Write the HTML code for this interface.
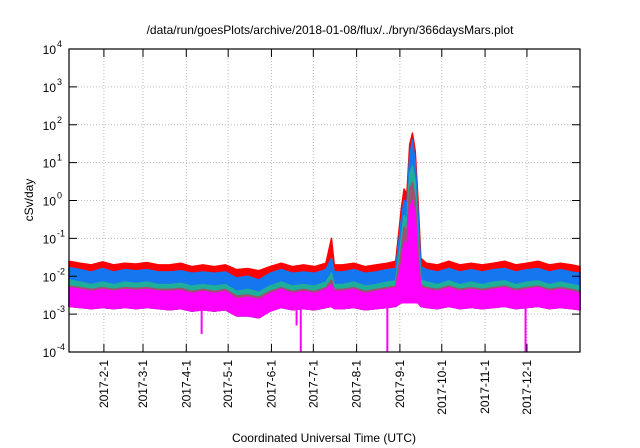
<!DOCTYPE html>
<html><head><meta charset="utf-8"><style>
html,body{margin:0;padding:0;background:#fff;}
svg{display:block;font-family:"Liberation Sans",sans-serif;}
</style></head><body>
<svg id="chart" width="640" height="448" viewBox="0 0 640 448" xmlns="http://www.w3.org/2000/svg">
<text x="330" y="34" font-size="12" text-anchor="middle">/data/run/goesPlots/archive/2018-01-08/flux/../bryn/366daysMars.plot</text>
<text x="0" y="0" font-size="12" text-anchor="middle" transform="translate(33,200) rotate(-90)">cSv/day</text>
<text x="324" y="442" font-size="12" text-anchor="middle">Coordinated Universal Time (UTC)</text>
<g id="grid"></g>
<g id="series"></g>
<g id="axes"></g>
</svg>
<script>
const days=[0,8,16,24,32,40,48,56,64,72,80,88,96,104,112,120,128,136,144,152,160,168,176,184,188,190,196,204,212,220,228,234,238,240,242,244,246,248,250,252,256,264,272,280,288,296,304,312,320,328,336,344,352,360,366];
const redVals=[0.025,0.022,0.02,0.024,0.02,0.022,0.021,0.023,0.02,0.02,0.022,0.018,0.02,0.018,0.02,0.015,0.016,0.014,0.018,0.022,0.018,0.02,0.018,0.022,0.1,0.02,0.02,0.022,0.018,0.02,0.022,0.025,0.6,2,1.5,30,60,20,1,0.03,0.022,0.02,0.025,0.02,0.022,0.02,0.022,0.025,0.02,0.022,0.025,0.02,0.022,0.02,0.018];
const blueVals=[0.017,0.015,0.013,0.016,0.013,0.015,0.014,0.015,0.013,0.013,0.014,0.012,0.013,0.012,0.013,0.009,0.01,0.008,0.012,0.015,0.012,0.013,0.012,0.015,0.03,0.013,0.013,0.015,0.012,0.013,0.015,0.016,0.3,1,0.8,15,40,10,0.5,0.018,0.015,0.013,0.016,0.013,0.015,0.013,0.015,0.016,0.013,0.015,0.016,0.013,0.015,0.013,0.012];
const tealVals=[0.008,0.007,0.006,0.007,0.006,0.007,0.0065,0.007,0.006,0.006,0.0065,0.0055,0.006,0.0055,0.006,0.004,0.0045,0.0038,0.0055,0.007,0.0055,0.006,0.0055,0.007,0.012,0.006,0.006,0.007,0.0055,0.006,0.007,0.0075,0.1,0.4,0.3,5,8,3,0.1,0.008,0.007,0.006,0.0075,0.006,0.007,0.006,0.007,0.0075,0.006,0.007,0.0075,0.006,0.007,0.006,0.0055];
const brownVals=[0.0055,0.005,0.0045,0.005,0.0045,0.005,0.0048,0.005,0.0045,0.0045,0.0048,0.004,0.0045,0.004,0.0045,0.003,0.0032,0.0028,0.004,0.005,0.004,0.0045,0.004,0.005,0.008,0.0045,0.0045,0.005,0.004,0.0045,0.005,0.0055,0.05,0.2,0.15,2,3,1,0.05,0.006,0.005,0.0045,0.0055,0.0045,0.005,0.0045,0.005,0.0055,0.0045,0.005,0.0055,0.0045,0.005,0.0045,0.004];
const magentaHi=[0.005,0.0045,0.004,0.0045,0.004,0.0045,0.0042,0.0045,0.004,0.004,0.0042,0.0035,0.004,0.0035,0.004,0.0025,0.0028,0.0024,0.0035,0.0045,0.0035,0.004,0.0035,0.0045,0.006,0.004,0.004,0.0045,0.0035,0.004,0.0045,0.005,0.02,0.08,0.06,0.6,1,0.4,0.02,0.005,0.0045,0.004,0.005,0.004,0.0045,0.004,0.0045,0.005,0.004,0.0045,0.005,0.004,0.0045,0.004,0.0035];
const magentaLo=[0.0016,0.0015,0.0014,0.0015,0.0014,0.0015,0.0014,0.0015,0.0014,0.0013,0.0014,0.0012,0.0013,0.0012,0.0013,0.0009,0.0009,0.0008,0.0012,0.0015,0.0013,0.0014,0.0013,0.0015,0.0016,0.0014,0.0014,0.0015,0.0013,0.0014,0.0015,0.0016,0.002,0.002,0.002,0.002,0.002,0.002,0.002,0.0016,0.0015,0.0014,0.0016,0.0014,0.0015,0.0014,0.0015,0.0016,0.0014,0.0015,0.0016,0.0014,0.0015,0.0014,0.0013];
const spikeDays=[95,163,166,228,327];
const spikeVals=[0.0003,0.0005,0.0001,0.0001,0.0001];
const xTickDays=[25,53,84,114,145,175,206,237,267,298,328];
const xTickLabels=["2017-2-1","2017-3-1","2017-4-1","2017-5-1","2017-6-1","2017-7-1","2017-8-1","2017-9-1","2017-10-1","2017-11-1","2017-12-1"];
const yExps=[-4,-3,-2,-1,0,1,2,3,4];

const L=69,R=580,T=49,B=352,NS="http://www.w3.org/2000/svg";
const xs=d=>L+(R-L)*d/366;
const ys=v=>B-(Math.log10(v)+4)/8*(B-T);
function mk(tag,attrs,parent){const e=document.createElementNS(NS,tag);for(const k in attrs)e.setAttribute(k,attrs[k]);parent.appendChild(e);return e;}
const grid=document.getElementById('grid'),ser=document.getElementById('series'),axes=document.getElementById('axes');

yExps.forEach(e=>{const y=ys(Math.pow(10,e));
 if(e>-4&&e<4){const g=mk('line',{x1:L,x2:R,y1:y,y2:y,stroke:'#bbb','stroke-dasharray':'1,2'},grid);
 
 }
 const t=mk('line',{x1:L,x2:L+8,y1:y,y2:y,stroke:'#000'},axes);
 
 
 mk('line',{x1:R-8,x2:R,y1:y,y2:y,stroke:'#000'},axes);
 const tx=mk('text',{x:56,y:y+5,'font-size':'12','text-anchor':'end'},axes);
 
 
 tx.textContent='10';
 const sp=mk('text',{x:57,y:y-2,'font-size':'9'},axes);
 sp.textContent=String(e);
});
xTickDays.forEach((d,i)=>{const x=xs(d);
 const g=mk('line',{x1:x,x2:x,y1:T,y2:B,stroke:'#bbb','stroke-dasharray':'1,2'},grid);
 
 
 mk('line',{x1:x,x2:x,y1:B-8,y2:B,stroke:'#000'},axes);
 mk('line',{x1:x,x2:x,y1:T,y2:T+8,stroke:'#000'},axes);
 const tx=mk('text',{x:0,y:0,'font-size':'12','text-anchor':'end',transform:`translate(${x+4},${B+8}) rotate(-90)`},axes);
 
 
 tx.textContent=xTickLabels[i];
});
const fr=mk('rect',{x:L,y:T,width:R-L,height:B-T,fill:'none',stroke:'#000','stroke-width':'1.2'},axes);



function band(hi,lo,color,name){
 let p=days.map((d,i)=>xs(d)+','+ys(hi[i])).join(' ');
 p+=' '+days.slice().reverse().map((d,j)=>{const i=days.length-1-j;return xs(d)+','+ys(lo[i]);}).join(' ');
 const e=mk('polygon',{points:p,fill:color,stroke:color,'stroke-width':'1.5','stroke-linejoin':'round'},ser);
 
 
}
band(redVals,magentaLo,'#ff0000','series-red');
band(blueVals,magentaLo,'#1577f0','series-blue');
band(tealVals,magentaLo,'#1fae9a','series-teal');
band(brownVals,magentaLo,'#a05070','series-brown');
band(magentaHi,magentaLo,'#ff00ff','series-magenta');
spikeDays.forEach((d,i)=>{const x=xs(d);
 const s=mk('line',{x1:x,x2:x,y1:ys(0.0015),y2:Math.min(B,ys(spikeVals[i])),stroke:'#ff00ff','stroke-width':'2'},ser);
 
 
});
</script>
</body></html>
